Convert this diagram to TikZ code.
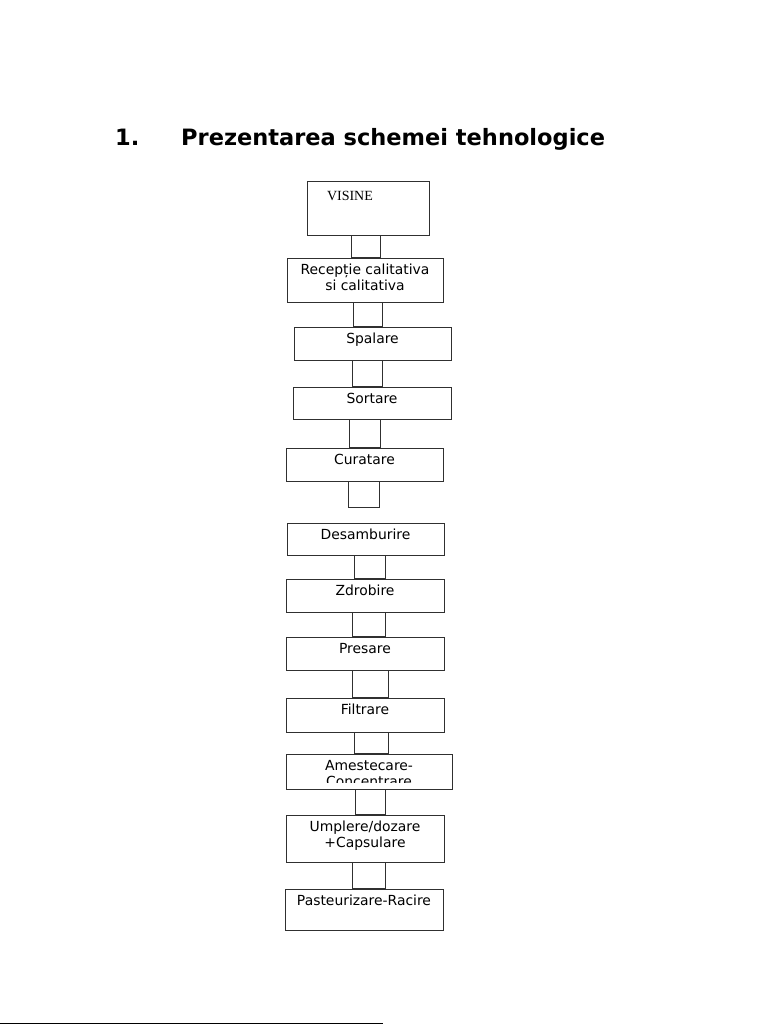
\documentclass[tikz,border=0pt]{standalone}
\usepackage{fontspec}
\setmainfont{DejaVu Sans}
\newfontfamily\visinefont{Liberation Serif}
\usepackage{tikz}
\usetikzlibrary{positioning}
\definecolor{boxline}{HTML}{303030}
\newcommand{\stagefont}{\fontsize{13.9}{16}\selectfont}

\begin{document}
\begin{tikzpicture}[
    x=1pt, y=-1pt,
    stage/.style={
        draw=boxline,
        line width=1pt,
        minimum width=158pt,
        inner xsep=0pt,
        inner ysep=4pt,
        text height=12pt,
        align=center,
        font=\stagefont
    },
    twolines/.style={text height=28pt},
    link/.style={draw=boxline, line width=1pt},
    heading/.style={anchor=base west, inner sep=0pt,
        font=\fontsize{22.5}{27}\selectfont\bfseries}
]
    \useasboundingbox[fill=white] (0,0) rectangle (768,1024);

    \node[heading] (headnum) at (115,146) {1.};
    \node[heading] (headtext) at (181,146) {Prezentarea schemei tehnologice};

    \node[stage, minimum width=122pt, inner xsep=20pt, text width=82pt,
        align=left, text height=15pt, text depth=30pt,
        font=\visinefont\fontsize{14}{16}\selectfont] (visine) at (368,208.5) {VISINE};
    \node[stage, twolines, minimum width=156pt, text depth=8pt] (receptie) at (365,280)
        {Recepție calitativa\\si calitativa};
    \node[stage, minimum width=157pt, text depth=13pt] (spalare) at (372.5,343.5) {Spalare};
    \node[stage, text depth=12pt] (sortare) at (372,403) {Sortare};
    \node[stage, minimum width=157pt, text depth=13pt] (curatare) at (364.5,464.5) {Curatare};
    \coordinate (curataretail) at (379,507);

    \node[stage, minimum width=157pt, text depth=12pt] (desamburire) at (365.5,539) {Desamburire};
    \node[stage, text depth=13pt] (zdrobire) at (365,595.5) {Zdrobire};
    \node[stage, text depth=13pt] (presare) at (365,653.5) {Presare};
    \node[stage, text depth=14pt] (filtrare) at (365,715) {Filtrare};
    \node[stage, minimum width=166pt, minimum height=35pt,
        path picture={
            \clip ([yshift=6.5pt]path picture bounding box.south west)
                rectangle (path picture bounding box.north east);
            \node[anchor=north, align=center, inner sep=4pt, text height=28pt,
                font=\stagefont] (amestecaretext)
                at (path picture bounding box.north) {Amestecare-\\Concentrare};
        }] (amestecare) at (369,771.5) {};
    \node[stage, twolines, text depth=11pt] (umplere) at (365,838.5)
        {Umplere/dozare\\+Capsulare};
    \node[stage, text depth=21pt] (pasteurizare) at (364,909.5) {Pasteurizare-Racire};

    % legaturi intre etape
    \draw[link] (351,0 |- visine.south) rectangle (380,0 |- receptie.north);
    \draw[link] (353,0 |- receptie.south) rectangle (382,0 |- spalare.north);
    \draw[link] (352,0 |- spalare.south) rectangle (382,0 |- sortare.north);
    \draw[link] (349,0 |- sortare.south) rectangle (380,0 |- curatare.north);
    \draw[link] (348,0 |- curatare.south) rectangle (curataretail);
    \draw[link] (354,0 |- desamburire.south) rectangle (385,0 |- zdrobire.north);
    \draw[link] (352,0 |- zdrobire.south) rectangle (385,0 |- presare.north);
    \draw[link] (352,0 |- presare.south) rectangle (388,0 |- filtrare.north);
    \draw[link] (354,0 |- filtrare.south) rectangle (388,0 |- amestecare.north);
    \draw[link] (355,0 |- amestecare.south) rectangle (385,0 |- umplere.north);
    \draw[link] (352,0 |- umplere.south) rectangle (385,0 |- pasteurizare.north);

    \draw[line width=1pt] (0,1023.5) -- (383,1023.5);
\end{tikzpicture}
\end{document}
